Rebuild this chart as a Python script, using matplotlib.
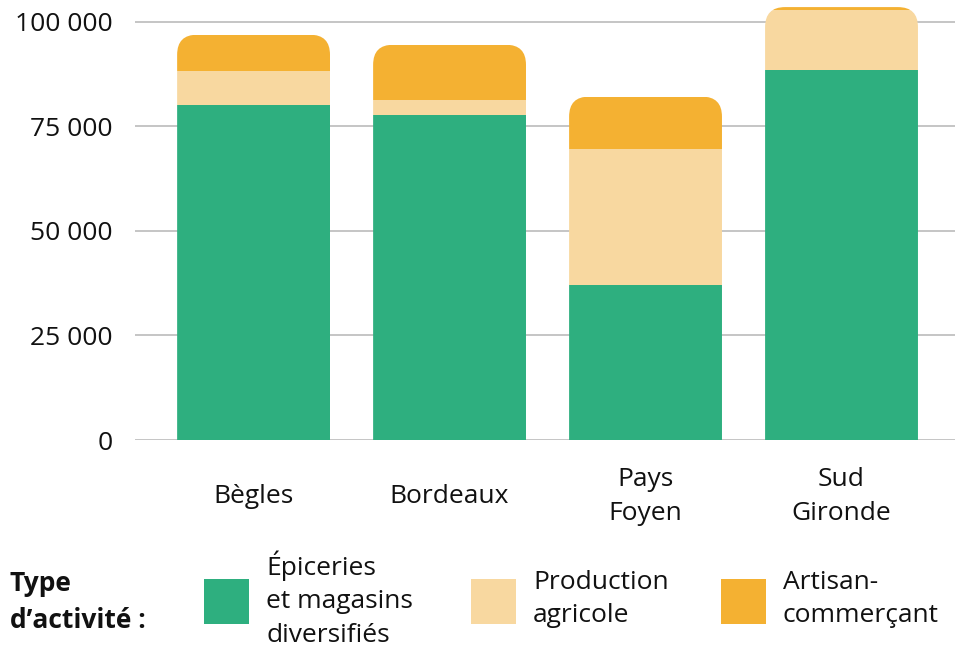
import matplotlib
matplotlib.use("Agg")
import matplotlib.pyplot as plt
from matplotlib.patches import FancyBboxPatch, Rectangle
import numpy as np

plt.rcParams['font.family'] = ['Open Sans', 'DejaVu Sans']

# data
territoires = ["Bègles", "Bordeaux", "Pays\nFoyen", "Sud\nGironde"]
epiceries = [80000, 77800, 37100, 88500]
production = [8300, 3500, 32500, 14400]
artisans = [8600, 13200, 12500, 600]
series_labels = ["Épiceries\net magasins\ndiversifiés", "Production\nagricole", "Artisan-\ncommerçant"]
yticks = [0, 25000, 50000, 75000, 100000]
ytick_labels = ["0", "25 000", "50 000", "75 000", "100 000"]

colors = ["#2EAF7F", "#F8D8A0", "#F4B132"]

W, H = 960, 648
fig = plt.figure(figsize=(W / 100, H / 100), dpi=100)
ax = fig.add_axes([135 / W, 1 - 440 / H, 820 / W, 435 / H])

x = np.arange(len(territoires))
bar_w = 0.78
xlo, xhi = -0.605, 3.579
ax.set_xlim(xlo, xhi)
ax.set_ylim(0, 104000)

# rounded top for each stack, via a clip patch
px_x = ax.bbox.width / (xhi - xlo)
px_y = ax.bbox.height / 104000
radius_px = 20
r_x = radius_px / px_x
aspect = (radius_px / px_y) / r_x

totals = np.array(epiceries) + np.array(production) + np.array(artisans)
clips = []
for i in range(len(x)):
    p = FancyBboxPatch((x[i] - bar_w / 2, -30000), bar_w, totals[i] + 30000,
                       boxstyle=f"round,pad=0,rounding_size={r_x}",
                       mutation_aspect=aspect, transform=ax.transData)
    clips.append(p)

bottom = np.zeros(len(x))
for vals, c in zip([epiceries, production, artisans], colors):
    bars = ax.bar(x, vals, bar_w, bottom=bottom, color=c, linewidth=0)
    for i, b in enumerate(bars):
        b.set_clip_path(clips[i])
    bottom += np.array(vals)

ax.set_yticks(yticks)
ax.set_yticklabels(ytick_labels, fontsize=19, color="#111111")
ax.yaxis.grid(True, color="#BBBBBB", linewidth=1.2)
ax.set_axisbelow(True)
ax.tick_params(axis="y", length=0, pad=16)

ax.set_xticks(x)
ax.set_xticklabels(territoires, fontsize=19, color="#111111", linespacing=1.47)
ax.tick_params(axis="x", length=0, pad=41)
for lab in ax.get_xticklabels():
    lab.set_va("center")

for s in ax.spines.values():
    s.set_visible(False)

# legend
fig.text(10 / W, 1 - 602 / H, "Type\nd\u2019activité :", fontsize=19, fontweight="bold",
         va="center", ha="left", linespacing=1.45, color="#111111")
leg_x = [204, 471, 721]
for lx, c, lab in zip(leg_x, colors, series_labels):
    fig.patches.append(Rectangle((lx / W, 1 - 624 / H), 45 / W, 45 / H,
                                 transform=fig.transFigure, facecolor=c, edgecolor="none"))
    fig.text((lx + 62) / W, 1 - 599 / H, lab, fontsize=19, va="center", ha="left",
             linespacing=1.45, color="#111111")

fig.savefig("out.png", dpi=100)
